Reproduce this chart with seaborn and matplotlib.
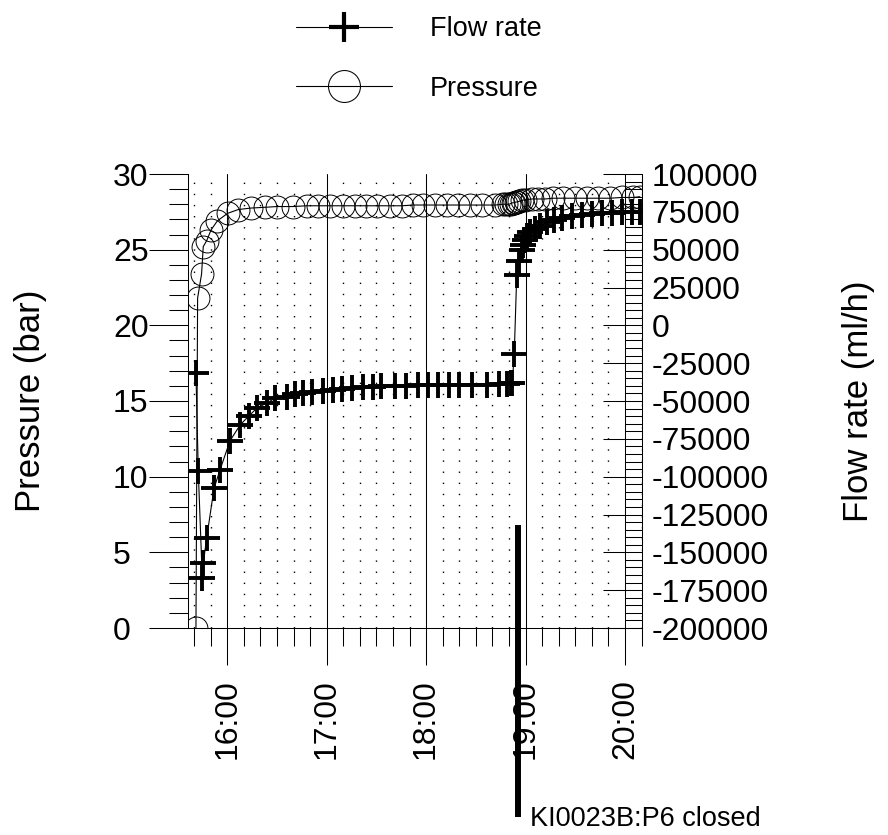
import matplotlib
matplotlib.use("Agg")
import matplotlib.pyplot as plt
import matplotlib.dates as mdates
from matplotlib.lines import Line2D
from matplotlib.ticker import MultipleLocator, FuncFormatter
import seaborn as sns
import pandas as pd

# ---------------- data ----------------
pressure_times = [
    "15:41:06", "15:42:06", "15:44:30", "15:45:30", "15:47:36", "15:50:12", "15:54:00",
    "16:00:12", "16:06:36", "16:14:18", "16:22:48", "16:30:00", "16:39:48", "16:47:54",
    "16:55:00", "17:02:00", "17:10:00", "17:17:00", "17:24:00", "17:30:24", "17:38:12",
    "17:45:30", "17:52:06", "17:58:12", "18:05:24", "18:12:36", "18:19:18", "18:26:30",
    "18:33:42", "18:41:36", "18:46:24", "18:48:30", "18:50:00", "18:51:12", "18:52:18",
    "18:53:12", "18:54:06", "18:55:00", "18:56:12", "18:57:36", "18:59:42", "19:04:00",
    "19:07:30", "19:11:48", "19:16:36", "19:22:42", "19:29:54", "19:37:06", "19:43:48",
    "19:51:00", "19:58:18", "20:04:54", "20:09:00",
]
pressure_bar = [
    0.0, 21.8, 23.4, 25.2, 25.6, 26.3, 26.9,
    27.4, 27.65, 27.75, 27.8, 27.85, 27.85, 27.9,
    27.9, 27.9, 27.9, 27.9, 27.9, 27.9, 27.9,
    27.9, 27.95, 27.95, 27.95, 27.95, 27.95, 27.95,
    27.95, 27.95, 28.0, 28.0, 28.0, 28.05, 28.1,
    28.1, 28.15, 28.15, 28.2, 28.25, 28.3, 28.35,
    28.35, 28.35, 28.4, 28.4, 28.4, 28.4, 28.4,
    28.4, 28.45, 28.45, 28.5,
]

flow_times = [
    "15:41:06", "15:42:30", "15:44:54", "15:45:30", "15:47:36", "15:52:00", "15:55:36",
    "16:01:36", "16:07:42", "16:13:00", "16:18:00", "16:24:00", "16:29:00", "16:36:00",
    "16:41:00", "16:46:00", "16:51:00", "16:58:00", "17:04:00", "17:09:00", "17:15:00",
    "17:22:00", "17:28:00", "17:33:00", "17:41:00", "17:48:00", "17:55:00", "18:01:00",
    "18:07:00", "18:14:00", "18:20:00", "18:28:00", "18:37:00", "18:44:00", "18:49:00",
    "18:51:00", "18:52:00", "18:53:12", "18:54:42", "18:56:18", "18:57:42", "18:58:30",
    "18:59:30", "19:01:00", "19:03:00", "19:06:00", "19:09:00", "19:13:00", "19:17:00",
    "19:22:00", "19:28:00", "19:34:00", "19:40:00", "19:46:00", "19:52:00", "19:58:00",
    "20:04:00", "20:09:00",
]
flow_mlh = [
    -31700, -96300, -166800, -157200, -140300, -107700, -95600,
    -76400, -65900, -59900, -54600, -51300, -48000, -47400,
    -45400, -44700, -44000, -43400, -42700, -42100, -41400,
    -40700, -40700, -40400, -40100, -40100, -39700, -39700,
    -39400, -39400, -39400, -39100, -39100, -38800, -38800,
    -38400, -38400, -18900, 33300, 42500, 49800, 53100,
    56400, 59000, 61700, 63700, 65600, 68300, 69600,
    70900, 72300, 72900, 73600, 74200, 74200, 74900,
    74900, 74900,
]

event_time = "18:55:12"
event_top_bar = 6.8
event_bottom_bar = -12.5
event_label = "KI0023B:P6 closed"

x_start, x_end = "15:36:18", "20:10:18"
series_labels = ["Flow rate", "Pressure"]
left_label = "Pressure (bar)"
right_label = "Flow rate (ml/h)"

DAY = "2000-01-01 "


def ts(values):
    return pd.to_datetime([DAY + v for v in values])


pdf = pd.DataFrame({"time": ts(pressure_times), "pressure": pressure_bar})
fdf = pd.DataFrame({"time": ts(flow_times), "flow": flow_mlh})

# ---------------- style ----------------
sns.set_theme(style="white")
plt.rcParams["font.family"] = ["Liberation Sans", "DejaVu Sans"]
plt.rcParams["axes.unicode_minus"] = False
for k in ("text.color", "axes.labelcolor", "xtick.color", "ytick.color"):
    plt.rcParams[k] = "black"

fig = plt.figure(figsize=(8.88, 8.35), dpi=100)
ax = fig.add_axes([188 / 888, 1 - 628 / 835, 454 / 888, 454 / 835])
ax2 = ax.twinx()

sns.lineplot(data=pdf, x="time", y="pressure", ax=ax, color="black", lw=0.8,
             marker="o", markersize=16.5, markerfacecolor="none",
             markeredgecolor="black", markeredgewidth=0.7, errorbar=None, zorder=3)
sns.lineplot(data=fdf, x="time", y="flow", ax=ax2, color="black", lw=0.8,
             marker="+", markersize=19, markeredgecolor="black",
             markeredgewidth=2.8, errorbar=None, zorder=3)

# x axis
ax.set_xlim(pd.Timestamp(DAY + x_start), pd.Timestamp(DAY + x_end))
ax.xaxis.set_major_locator(mdates.HourLocator())
ax.xaxis.set_minor_locator(mdates.MinuteLocator(byminute=range(10, 60, 10)))
ax.xaxis.set_major_formatter(mdates.DateFormatter("%H:%M"))
ax.tick_params(axis="x", which="major", direction="out", length=26.6, width=0.75,
               color="black", labelcolor="black", labelrotation=90, labelsize=23,
               pad=10, bottom=True)
ax.tick_params(axis="x", which="minor", direction="out", length=13, width=0.75,
               color="black", bottom=True)
ax.grid(True, axis="x", which="major", color="black", lw=0.75, ls="-")
ax.grid(True, axis="x", which="minor", color="black", lw=1.0, ls=(0, (1, 7)))
ax.grid(False, axis="y")
ax2.grid(False)

# left y axis (labels left-aligned like the reference)
ax.set_ylim(0, 30)
ax.yaxis.set_major_locator(MultipleLocator(5))
ax.yaxis.set_minor_locator(MultipleLocator(1))
ax.tick_params(axis="y", which="major", direction="out", length=28, width=0.75,
               color="black", labelcolor="black", labelsize=23, pad=26, left=True)
ax.tick_params(axis="y", which="minor", direction="out", length=13.7, width=0.75,
               color="black", left=True)
for lbl in ax.get_yticklabels():
    lbl.set_horizontalalignment("left")

# right y axis
ax2.set_ylim(-200000, 100000)
ax2.yaxis.set_major_locator(MultipleLocator(25000))
ax2.yaxis.set_minor_locator(MultipleLocator(5000))
ax2.yaxis.set_major_formatter(FuncFormatter(lambda v, p: f"{int(round(v))}"))
ax2.tick_params(axis="y", which="major", direction="in", length=28, width=0.75,
                color="black", labelcolor="black", labelsize=23, pad=7, right=True)
ax2.tick_params(axis="y", which="minor", direction="in", length=12.2, width=0.75,
                color="black", right=True)

for a in (ax, ax2):
    for s in a.spines.values():
        s.set_color("black")
        s.set_linewidth(0.75)
    a.spines["top"].set_visible(False)
ax2.spines["left"].set_visible(False)
ax2.spines["bottom"].set_visible(False)
ax.spines["right"].set_visible(False)

ax.set_xlabel("")
ax.set_ylabel(left_label, fontsize=25, color="black")
ax.yaxis.set_label_coords(-0.31, 0.5)
ax2.set_ylabel(right_label, fontsize=25, color="black")
ax2.yaxis.set_label_coords(1.44, 0.5)

# event marker
ev = pd.Timestamp(DAY + event_time)
ax.plot([ev, ev], [event_top_bar, event_bottom_bar], color="black", lw=4.3,
        solid_capstyle="butt", clip_on=False, zorder=6)
ax.annotate(event_label, xy=(ev, event_bottom_bar), xytext=(9, -1),
            textcoords="offset points", fontsize=19.5, va="center", ha="left",
            annotation_clip=False, color="black")

# legend
h1 = Line2D([], [], color="black", lw=0.8, marker="+", markersize=22,
            markeredgewidth=3.0)
h2 = Line2D([], [], color="black", lw=0.8, marker="o", markersize=23,
            markerfacecolor="none", markeredgewidth=0.75)
fig.legend([h1, h2], series_labels, loc="upper left",
           bbox_to_anchor=(296 / 888, 1 - 16 / 835), frameon=False, fontsize=19.5,
           handlelength=3.55, handletextpad=1.4, labelspacing=1.25,
           borderpad=0, borderaxespad=0, labelcolor="black")

fig.savefig("out.png", dpi=100)
